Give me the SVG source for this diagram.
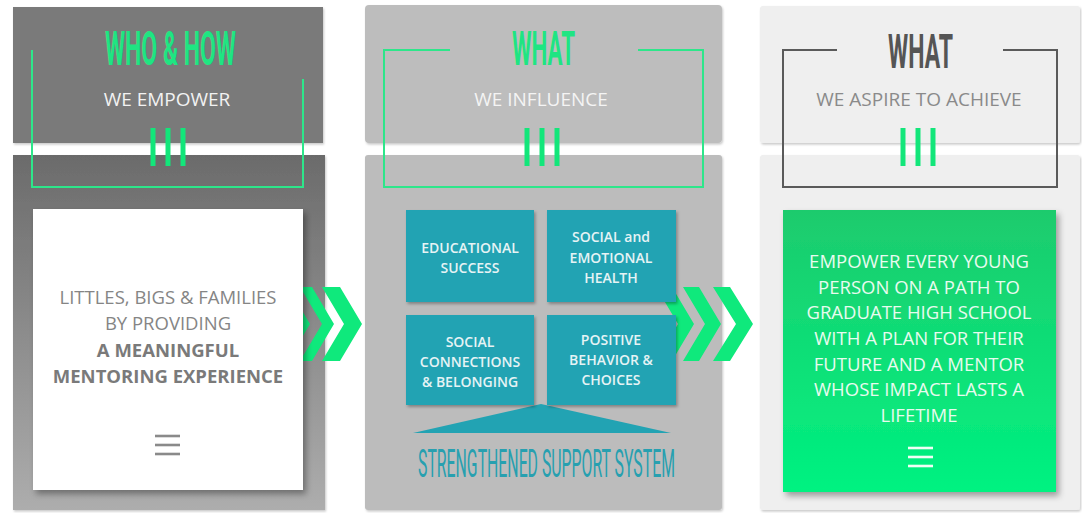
<svg xmlns="http://www.w3.org/2000/svg" width="1082" height="513" viewBox="0 0 1082 513">
<defs>
<linearGradient id="gBody1" x1="0" y1="0" x2="0" y2="1"><stop offset="0" stop-color="#6b6b6b"/><stop offset="1" stop-color="#adadad"/></linearGradient>
<linearGradient id="gGreen" x1="0" y1="0" x2="0" y2="1"><stop offset="0" stop-color="#1dcb6d"/><stop offset="1" stop-color="#00f281"/></linearGradient>
<filter id="sh" x="-10%" y="-10%" width="125%" height="125%"><feDropShadow dx="3" dy="4" stdDeviation="3" flood-color="#000" flood-opacity="0.35"/></filter>
<filter id="shs" x="-10%" y="-10%" width="125%" height="125%"><feDropShadow dx="1.5" dy="2" stdDeviation="1.5" flood-color="#000" flood-opacity="0.3"/></filter>
<filter id="shp" x="-5%" y="-5%" width="112%" height="112%"><feDropShadow dx="1" dy="1.5" stdDeviation="1.2" flood-color="#000" flood-opacity="0.22"/></filter>
</defs>
<style>
.title{font-family:Roboto,"DejaVu Sans",sans-serif;font-size:49px;font-weight:bold}
.sub{font-family:"Open Sans","Liberation Sans",sans-serif;font-size:19px;text-anchor:middle}
.frame{fill:none;stroke:#2de68a;stroke-width:2}
.frameDark{fill:none;stroke:#5a5a5a;stroke-width:2}
.bar{stroke:#12e67a;stroke-width:5}
.txt{font-family:"Open Sans","Liberation Sans",sans-serif;font-size:18.5px;text-anchor:middle}
.tile{fill:#22a3b3;filter:url(#shs)}
.tt{font-family:"Open Sans","Liberation Sans",sans-serif;font-size:14px;font-weight:600;fill:#e6f3f5;text-anchor:middle}
.chev{fill:#0fe97c}
.menu{fill:none;stroke-width:2.6}
</style>
<rect width="1082" height="513" fill="#ffffff"/>

<!-- Column 1 -->
<g id="col1-body">
<rect x="13" y="155" width="312" height="355" fill="url(#gBody1)" filter="url(#shp)"/>
</g>
<g id="col1-header">
<rect x="13" y="7" width="310" height="136" fill="#7a7a7a" filter="url(#shp)"/>
<text class="title" x="105" y="65" textLength="131" lengthAdjust="spacingAndGlyphs" fill="#1fe582">WHO &amp; HOW</text>
<text class="sub" x="167" y="106" fill="#f2f2f2">WE EMPOWER</text>
<polyline class="frame" points="32,50 32,187 303,187 303,79"/>
<line class="bar" x1="153" y1="128" x2="153" y2="166"/>
<line class="bar" x1="168" y1="128" x2="168" y2="166"/>
<line class="bar" x1="183" y1="128" x2="183" y2="166"/>
</g>

<!-- Column 2 -->
<g id="col2-body">
<rect x="365" y="155" width="357" height="355" rx="3" fill="#bcbcbc" filter="url(#shp)"/>
</g>
<g id="col2-header">
<rect x="365" y="5" width="357" height="138" rx="4" fill="#bdbdbd" filter="url(#shp)"/>
<text class="title" x="512" y="65" textLength="63" lengthAdjust="spacingAndGlyphs" fill="#1fe582">WHAT</text>
<text class="sub" x="541" y="106" fill="#f4f4f4">WE INFLUENCE</text>
<polyline class="frame" points="450,50 384,50 384,187 703,187 703,50 638,50"/>
<line class="bar" x1="527" y1="128" x2="527" y2="166"/>
<line class="bar" x1="542" y1="128" x2="542" y2="166"/>
<line class="bar" x1="557" y1="128" x2="557" y2="166"/>
</g>

<!-- Column 3 -->
<g id="col3-body">
<rect x="760" y="155" width="320" height="355" rx="3" fill="#efefef" filter="url(#shp)"/>
</g>
<g id="col3-header">
<rect x="760" y="6" width="320" height="137" rx="3" fill="#efefef" filter="url(#shp)"/>
<text class="title" x="888" y="68" textLength="65" lengthAdjust="spacingAndGlyphs" fill="#555555">WHAT</text>
<text class="sub" x="919" y="106" fill="#8a8a8a">WE ASPIRE TO ACHIEVE</text>
<polyline class="frameDark" points="837,50 783,50 783,187 1057,187 1057,50 1003,50"/>
<line class="bar" x1="903" y1="128" x2="903" y2="166"/>
<line class="bar" x1="918" y1="128" x2="918" y2="166"/>
<line class="bar" x1="933" y1="128" x2="933" y2="166"/>
</g>

<!-- Connectors (chevrons) -->
<g id="connectors">
<polygon class="chev" points="272,287 288,287 310,324 288,361 272,361 294,324"/>
<polygon class="chev" points="300,287 312,287 334,324 312,361 300,361 322,324"/>
<polygon class="chev" points="322,287 340,287 362,324 340,361 322,361 344,324"/>
<polygon class="chev" points="656,287 672,287 694,324 672,361 656,361 678,324"/>
<polygon class="chev" points="683,287 699,287 721,324 699,361 683,361 705,324"/>
<polygon class="chev" points="713,287 730,287 753,324 730,361 713,361 736,324"/>
</g>

<!-- Column 1 content -->
<g id="col1-content">
<rect x="33" y="209" width="270" height="281" fill="#ffffff" filter="url(#sh)"/>
<text class="txt" x="168" y="304" fill="#858585">LITTLES, BIGS &amp; FAMILIES</text>
<text class="txt" x="168" y="330" fill="#858585">BY PROVIDING</text>
<text class="txt" x="168" y="357" fill="#7a7a7a" font-weight="bold">A MEANINGFUL</text>
<text class="txt" x="168" y="383" fill="#7a7a7a" font-weight="bold">MENTORING EXPERIENCE</text>
<g class="menu" stroke="#8a8a8a">
<line x1="155" y1="436" x2="180" y2="436"/>
<line x1="155" y1="445" x2="180" y2="445"/>
<line x1="155" y1="454" x2="180" y2="454"/>
</g>
</g>

<!-- Column 2 content -->
<g id="support-triangle">
<polygon points="541,404 413,433 671,433" fill="#22a3b3"/>
</g>
<g id="box-educational-success">
<rect class="tile" x="406" y="210" width="128" height="92"/>
<text class="tt" x="470" y="253">EDUCATIONAL</text>
<text class="tt" x="470" y="273">SUCCESS</text>
</g>
<g id="box-social-emotional-health">
<rect class="tile" x="547" y="210" width="129" height="92"/>
<text class="tt" x="611" y="242">SOCIAL and</text>
<text class="tt" x="611" y="263">EMOTIONAL</text>
<text class="tt" x="611" y="283">HEALTH</text>
</g>
<g id="box-social-connections">
<rect class="tile" x="406" y="315" width="128" height="90"/>
<text class="tt" x="470" y="347">SOCIAL</text>
<text class="tt" x="470" y="367">CONNECTIONS</text>
<text class="tt" x="470" y="387">&amp; BELONGING</text>
</g>
<g id="box-positive-behavior">
<rect class="tile" x="547" y="315" width="129" height="90"/>
<text class="tt" x="611" y="345">POSITIVE</text>
<text class="tt" x="611" y="365">BEHAVIOR &amp;</text>
<text class="tt" x="611" y="385">CHOICES</text>
</g>
<g id="support-system-label">
<text x="418" y="477" textLength="257" lengthAdjust="spacingAndGlyphs" fill="#27a0b0" style="font-family:Roboto,'DejaVu Sans',sans-serif;font-size:38px">STRENGTHENED SUPPORT SYSTEM</text>
</g>

<!-- Column 3 content -->
<g id="col3-content">
<rect x="783" y="210" width="273" height="282" fill="url(#gGreen)" filter="url(#sh)"/>
<text class="txt" x="919" y="268" fill="#e8fbef">EMPOWER EVERY YOUNG</text>
<text class="txt" x="919" y="294" fill="#e8fbef">PERSON ON A PATH TO</text>
<text class="txt" x="919" y="319" fill="#e8fbef">GRADUATE HIGH SCHOOL</text>
<text class="txt" x="919" y="345" fill="#e8fbef">WITH A PLAN FOR THEIR</text>
<text class="txt" x="919" y="371" fill="#e8fbef">FUTURE AND A MENTOR</text>
<text class="txt" x="919" y="396" fill="#e8fbef">WHOSE IMPACT LASTS A</text>
<text class="txt" x="919" y="422" fill="#e8fbef">LIFETIME</text>
<g class="menu" stroke="#f0fff5" stroke-width="3">
<line x1="908" y1="448" x2="933" y2="448"/>
<line x1="908" y1="457" x2="933" y2="457"/>
<line x1="908" y1="466" x2="933" y2="466"/>
</g>
</g>
</svg>
